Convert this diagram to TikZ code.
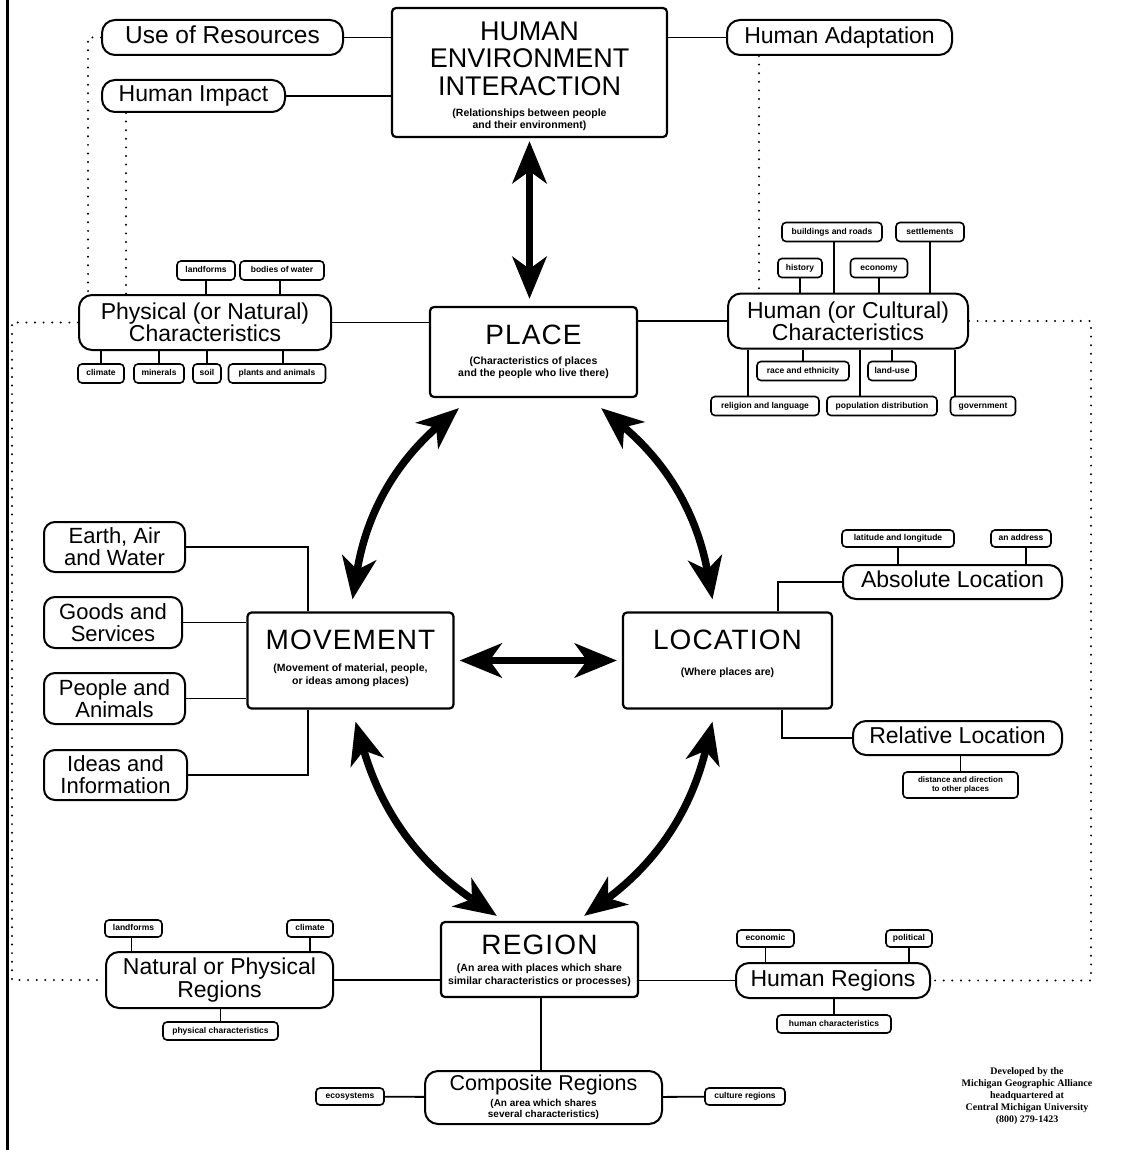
\documentclass[tikz,border=0pt]{standalone}
\usepackage{fontspec}
\setmainfont{Liberation Sans}
\newfontfamily\titlefont[LetterSpace=4]{Liberation Sans}
\newfontfamily\credfont{Liberation Serif}
\usetikzlibrary{arrows.meta}
\newcommand{\subtxt}{\fontsize{10.5}{12.5}\selectfont\bfseries}
\newcommand{\ttltxt}{\titlefont\fontsize{28}{28}\selectfont}
\tikzset{
 mainbox/.style={draw, line width=2.2pt, rounded corners=4pt, inner sep=0pt},
 ttl/.style={font=\ttltxt, inner sep=0pt, text height=20pt, text depth=0pt},
 subt/.style={font=\subtxt, inner sep=0pt, align=center},
 midbox/.style={draw, line width=2pt, rounded corners=13pt, inner sep=0pt, align=center, font=\fontsize{23}{21}\selectfont},
 oneline/.style={text height=16.5pt, text depth=4.7pt},
 sidebox/.style={draw, line width=2pt, rounded corners=11pt, inner sep=0pt, align=center, font=\fontsize{22}{22}\selectfont},
 tinybase/.style={draw, line width=1.6pt, rounded corners=4pt, inner sep=0pt, minimum height=19pt, align=center, font=\fontsize{8.5}{9.5}\selectfont\bfseries},
 tinybox/.style={tinybase, text height=6.3pt, text depth=1.9pt},
 link/.style={line width=1.8pt},
 dotlink/.style={line width=2.2pt, dash pattern=on 0pt off 8.6pt, line cap=round},
 bigarrow/.style={line width=7.5pt, {Stealth[length=42pt,width=34pt,inset=12pt]}-{Stealth[length=42pt,width=34pt,inset=12pt]}},
}
\begin{document}
\begin{tikzpicture}[x=1pt,y=1pt]
\fill[white] (0,0) rectangle (1120,-1150);
\useasboundingbox (0,0) rectangle (1120,-1150);
\draw[line width=3pt] (7,0) -- (7,-1150);

% main boxes
\node[mainbox, minimum width=275pt, minimum height=129pt] (hei) at (529.5,-72.5) {};
\node[inner sep=0pt, align=center, font=\fontsize{27}{27.5}\selectfont] (heit) at ([yshift=-51.5pt]hei.north) {HUMAN\\ENVIRONMENT\\INTERACTION};
\node[subt] (heis) at ([yshift=-113pt]hei.north) {(Relationships between people\\and their environment)};

\node[mainbox, minimum width=207pt, minimum height=90pt] (place) at (533.5,-352) {};
\node[ttl] (placet) at ([yshift=-29pt]place.north) {PLACE};
\node[subt] (places) at ([yshift=-62pt]place.north) {(Characteristics of places\\and the people who live there)};

\node[mainbox, minimum width=206pt, minimum height=96pt] (move) at (350.5,-660.5) {};
\node[ttl] (movet) at ([yshift=-28pt]move.north) {MOVEMENT};
\node[subt] (moves) at ([yshift=-64pt]move.north) {(Movement of material, people,\\or ideas among places)};

\node[mainbox, minimum width=209pt, minimum height=96pt] (loc) at (727.5,-660.5) {};
\node[ttl] (loct) at ([yshift=-28.5pt]loc.north) {LOCATION};
\node[subt] (locs) at ([yshift=-61pt]loc.north) {(Where places are)};

\node[mainbox, minimum width=197pt, minimum height=75pt] (region) at (539.5,-959.5) {};
\node[ttl] (regiont) at ([yshift=-23.5pt]region.north) {REGION};
\node[subt] (regions) at ([yshift=-54.5pt]region.north) {(An area with places which share\\similar characteristics or processes)};

% mid boxes
\node[midbox, oneline, minimum width=241pt, minimum height=35pt, font=\fontsize{24.5}{24}\selectfont] (use) at (222.5,-37.5) {Use of Resources};
\node[midbox, oneline, minimum width=183pt, minimum height=32pt] (impact) at (193.5,-96) {Human Impact};
\node[midbox, oneline, minimum width=225pt, minimum height=35pt] (adapt) at (839.5,-37.5) {Human Adaptation};
\node[midbox, minimum width=252pt, minimum height=55pt] (phys) at (205,-322.5) {Physical (or Natural)\\Characteristics};
\node[midbox, minimum width=240pt, minimum height=55pt] (humc) at (848,-321) {Human (or Cultural)\\Characteristics};
\node[sidebox, minimum width=141pt, minimum height=50pt] (earth) at (114.5,-547) {Earth, Air\\and Water};
\node[sidebox, minimum width=138pt, minimum height=51pt] (goods) at (113,-622.5) {Goods and\\Services};
\node[sidebox, minimum width=141pt, minimum height=51pt] (people) at (114.5,-698.5) {People and\\Animals};
\node[sidebox, minimum width=143pt, minimum height=50pt] (ideas) at (115.5,-775) {Ideas and\\Information};
\node[midbox, oneline, minimum width=219pt, minimum height=34pt] (abs) at (952.5,-582) {Absolute Location};
\node[midbox, oneline, minimum width=209pt, minimum height=34pt] (rel) at (957.5,-738) {Relative Location};
\node[midbox, minimum width=227pt, minimum height=56pt] (natreg) at (219.5,-980) {Natural or Physical\\Regions};
\node[midbox, oneline, minimum width=194pt, minimum height=35pt] (humreg) at (833,-980.5) {Human Regions};
\node[midbox, minimum width=237pt, minimum height=53pt] (comp) at (543.5,-1097.5) {};
\node[inner sep=0pt, font=\fontsize{21.5}{22}\selectfont, text height=15.5pt, text depth=0pt] (compt) at ([yshift=-13pt]comp.north) {Composite Regions};
\node[subt, font=\fontsize{10}{11.5}\selectfont\bfseries] (comps) at ([yshift=-39.5pt]comp.north) {(An area which shares\\several characteristics)};

% tiny boxes: physical
\node[tinybox, minimum width=58pt] (pland) at (206,-270.5) {landforms};
\node[tinybox, minimum width=84pt] (pwater) at (282,-270.5) {bodies of water};
\node[tinybox, minimum width=46pt] (pclim) at (101,-373.5) {climate};
\node[tinybox, minimum width=50pt] (pmin) at (159,-373.5) {minerals};
\node[tinybox, minimum width=28pt] (psoil) at (207,-373.5) {soil};
\node[tinybox, minimum width=97pt] (pplant) at (277,-373.5) {plants and animals};
% human
\node[tinybox, minimum width=100pt] (hbuild) at (832,-232) {buildings and roads};
\node[tinybox, minimum width=68pt] (hsettle) at (930,-232) {settlements};
\node[tinybox, minimum width=44pt] (hhist) at (800,-268) {history};
\node[tinybox, minimum width=57pt] (hecon) at (879,-268) {economy};
\node[tinybox, minimum width=92pt] (hrace) at (803,-371) {race and ethnicity};
\node[tinybox, minimum width=48pt] (hland) at (892,-371) {land-use};
\node[tinybox, minimum width=108pt] (hrelig) at (765,-406) {religion and language};
\node[tinybox, minimum width=110pt] (hpop) at (882,-406) {population distribution};
\node[tinybox, minimum width=65pt] (hgov) at (983,-406) {government};
% location
\node[tinybox, minimum width=112pt, minimum height=17pt] (latlong) at (898,-538.5) {latitude and longitude};
\node[tinybox, minimum width=60pt, minimum height=17pt] (addr) at (1021,-538.5) {an address};
\node[tinybase, minimum width=115pt, minimum height=26pt, font=\fontsize{8}{9.5}\selectfont\bfseries] (dist) at (960.5,-785) {distance and direction\\to other places};
% region
\node[tinybox, minimum width=57pt, minimum height=17pt] (rland) at (133.5,-928.5) {landforms};
\node[tinybox, minimum width=46pt, minimum height=17pt] (rclim) at (310,-928.5) {climate};
\node[tinybox, minimum width=115pt, minimum height=18pt] (rphys) at (220.5,-1031) {physical characteristics};
\node[tinybox, minimum width=57pt, minimum height=17pt] (recon) at (765.5,-938.5) {economic};
\node[tinybox, minimum width=46pt, minimum height=17pt] (rpol) at (909,-938.5) {political};
\node[tinybox, minimum width=114pt, minimum height=18pt] (rhum) at (834,-1024) {human characteristics};
\node[tinybox, minimum width=68pt, minimum height=17pt] (reco) at (350,-1096.5) {ecosystems};
\node[tinybox, minimum width=80pt, minimum height=17pt] (rcult) at (745,-1096.5) {culture regions};

% credits
\node[font=\credfont\bfseries\fontsize{10}{12}\selectfont, align=center, inner sep=0pt] (credit) at (1027,-1096) {Developed by the\\Michigan Geographic Alliance\\headquartered at\\Central Michigan University\\(800) 279-1423};

% solid links
\draw[link] (use.east) -- (use.east -| hei.west);
\draw[link] (impact.east) -- (impact.east -| hei.west);
\draw[link] (adapt.west) -- (adapt.west -| hei.east);
\draw[link] (phys.east) -- (phys.east -| place.west);
\draw[link] (humc.west) -- (humc.west -| place.east);

\draw[link] (pland.south) -- (pland.south |- phys.north);
\draw[link] ([xshift=-2pt]pwater.south) -- ([xshift=-2pt]pwater.south |- phys.north);
\draw[link] (pclim.north) -- (pclim.north |- phys.south);
\draw[link] (pmin.north) -- (pmin.north |- phys.south);
\draw[link] (psoil.north) -- (psoil.north |- phys.south);
\draw[link] ([xshift=6pt]pplant.north) -- ([xshift=6pt]pplant.north |- phys.south);

\draw[link] (hhist.south) -- (hhist.south |- humc.north);
\draw[link] ([xshift=2pt]hbuild.south) -- ([xshift=2pt]hbuild.south |- humc.north);
\draw[link] (hecon.south) -- (hecon.south |- humc.north);
\draw[link] (hsettle.south) -- (hsettle.south |- humc.north);
\draw[link] (hrace.north) -- (hrace.north |- humc.south);
\draw[link] (hland.north) -- (hland.north |- humc.south);
\draw[link] ([xshift=-17pt]hrelig.north) -- ([xshift=-17pt]hrelig.north |- humc.south);
\draw[link] ([xshift=-22pt]hpop.north) -- ([xshift=-22pt]hpop.north |- humc.south);
\draw[link] ([xshift=-28pt]hgov.north) -- ([xshift=-28pt]hgov.north |- humc.south);

\draw[link] (earth.east) -| ([xshift=-42.5pt]move.north);
\draw[link] (goods.east) -- (goods.east -| move.west);
\draw[link] (people.east) -- (people.east -| move.west);
\draw[link] (ideas.east) -| ([xshift=-42.5pt]move.south);

\draw[link] (abs.west) -| ([xshift=50.5pt]loc.north);
\draw[link] ([xshift=54.5pt]loc.south) |- (rel.west);
\draw[link] (latlong.south) -- (latlong.south |- abs.north);
\draw[link] ([xshift=5pt]addr.south) -- ([xshift=5pt]addr.south |- abs.north);
\draw[link] (dist.north) -- (dist.north |- rel.south);

\draw[link] ([xshift=-2pt]rland.south) -- ([xshift=-2pt]rland.south |- natreg.north);
\draw[link] (rclim.south) -- (rclim.south |- natreg.north);
\draw[link] (rphys.north) -- (rphys.north |- natreg.south);
\draw[link] (recon.south) -- (recon.south |- humreg.north);
\draw[link] (rpol.south) -- (rpol.south |- humreg.north);
\draw[link] (rhum.north) -- (rhum.north |- humreg.south);
\draw[link] (natreg.east) -- (natreg.east -| region.west);
\draw[link] (humreg.west) -- (humreg.west -| region.east);
\draw[link] ([xshift=1.5pt]region.south) -- ([xshift=1.5pt]region.south |- comp.north);
\draw[link] (reco) -- (comp);
\draw[link] (rcult) -- (comp);

% dotted links
\draw[dotlink] (use.west) -| ([xshift=10pt]phys.north west);
\draw[dotlink] ([xshift=-67.5pt]impact.south) -- ([xshift=-67.5pt]impact.south |- phys.north);
\draw[dotlink] (phys.west) -- ++(-66,0) |- (natreg.west);
\draw[dotlink] ([xshift=33pt]adapt.south west) -- ([xshift=33pt]adapt.south west |- humc.north);
\draw[dotlink] (humc.east) -- ++(122,0) |- (humreg.east);

% big arrows
\draw[bigarrow] ([yshift=-3pt]hei.south) -- ([yshift=7pt]hei.south |- place.north);
\draw[bigarrow] ([xshift=30pt,yshift=-10pt]place.south west) to[bend right=20] ([xshift=2pt,yshift=12pt]move.north);
\draw[bigarrow] ([xshift=-37pt,yshift=-10pt]place.south east) to[bend left=20] ([xshift=-15pt,yshift=12pt]loc.north);
\draw[bigarrow] ([xshift=5pt,yshift=-12pt]move.south) to[bend right=20] ([xshift=57pt,yshift=5pt]region.north west);
\draw[bigarrow] ([xshift=-15pt,yshift=-12pt]loc.south) to[bend left=20] ([xshift=-55pt,yshift=5pt]region.north east);
\draw[bigarrow] ([xshift=5pt]move.east) -- ([xshift=-5pt]loc.west);
\end{tikzpicture}
\end{document}
